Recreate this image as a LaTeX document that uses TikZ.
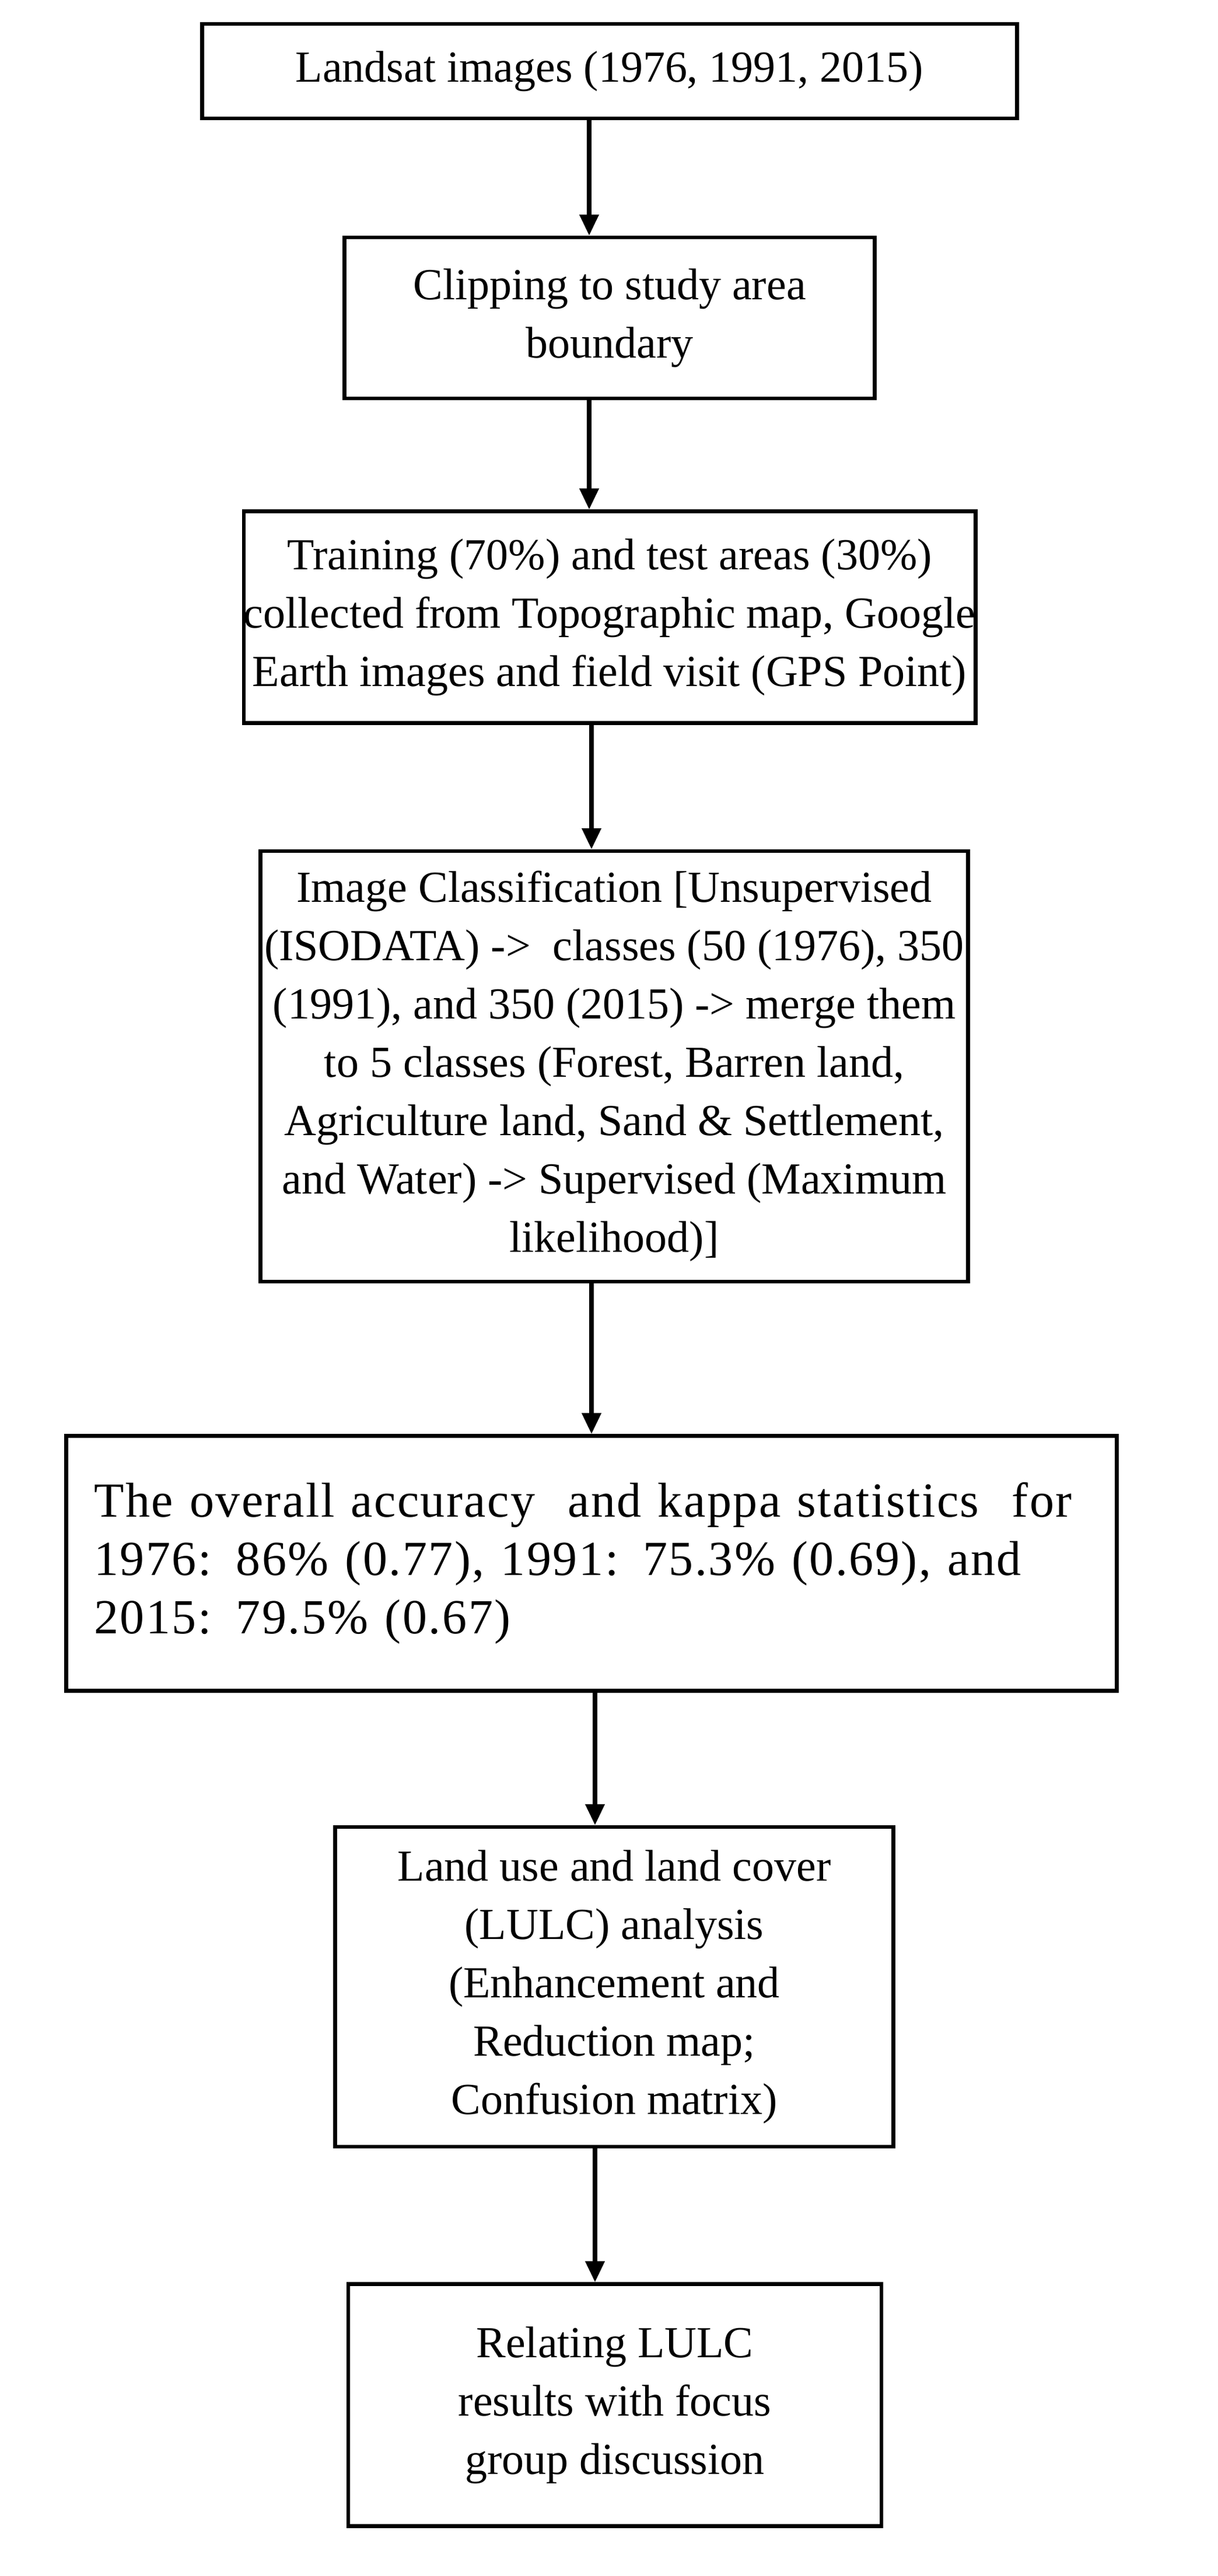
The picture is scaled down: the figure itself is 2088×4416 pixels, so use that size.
\documentclass[tikz,border=0pt]{standalone}
\usepackage{fontspec}
\setmainfont{Liberation Serif}
\usetikzlibrary{arrows.meta}
\begin{document}
\begin{tikzpicture}[x=0.25pt,y=-0.25pt,
  box/.style={draw,line width=1.6pt,inner sep=0pt,align=center,font=\fontsize{19}{25}\selectfont},
  arr/.style={line width=1.8pt,-{Triangle[length=9pt,width=8pt]}}]
\useasboundingbox (0,0) rectangle (2088,4416);
\node[box,minimum width=1397*0.25pt,minimum height=162*0.25pt] (b1) at (1045,122) {Landsat images (1976, 1991, 2015)};
\node[box,minimum width=909*0.25pt,minimum height=276*0.25pt] (b2) at (1045,545) {Clipping to study area\\boundary};
\node[box,minimum width=1065*0.25pt,minimum height=363*0.25pt] (b3) at (1045,1058) {Training (70\%) and test areas (30\%)\\collected from Topographic map, Google\\Earth images and field visit (GPS Point)};
\node[box,minimum width=1213*0.25pt,minimum height=738*0.25pt] (b4) at (1053,1828) {Image Classification [Unsupervised\\(ISODATA) ->\ \ classes (50 (1976), 350\\(1991), and 350 (2015) -> merge them\\to 5 classes (Forest, Barren land,\\Agriculture land, Sand \& Settlement,\\and Water) -> Supervised (Maximum\\likelihood)]};
\node[box,minimum height=437*0.25pt,text width=1801*0.25pt-24pt,inner xsep=12pt,align=left,font=\fontsize{21}{25}\selectfont\addfontfeature{LetterSpace=3}] (b5) at (1014,2680) {The overall accuracy\ \ and kappa statistics\ \ for\\1976: 86\% (0.77), 1991: 75.3\% (0.69), and\\2015: 79.5\% (0.67)};
\node[box,minimum width=957*0.25pt,minimum height=548*0.25pt] (b6) at (1053,3406) {Land use and land cover\\(LULC) analysis\\(Enhancement and\\Reduction map;\\Confusion matrix)};
\node[box,minimum width=914*0.25pt,minimum height=415*0.25pt] (b7) at (1054,4123) {Relating LULC\\results with focus\\group discussion};
\coordinate (x1) at (1010,0);
\coordinate (x2) at (1014,0);
\coordinate (x3) at (1020,0);
\draw[arr] (b1.south -| x1) -- (b2.north -| x1);
\draw[arr] (b2.south -| x1) -- (b3.north -| x1);
\draw[arr] (b3.south -| x2) -- (b4.north -| x2);
\draw[arr] (b4.south -| x2) -- (b5.north -| x2);
\draw[arr] (b5.south -| x3) -- (b6.north -| x3);
\draw[arr] (b6.south -| x3) -- (b7.north -| x3);
\end{tikzpicture}
\end{document}
